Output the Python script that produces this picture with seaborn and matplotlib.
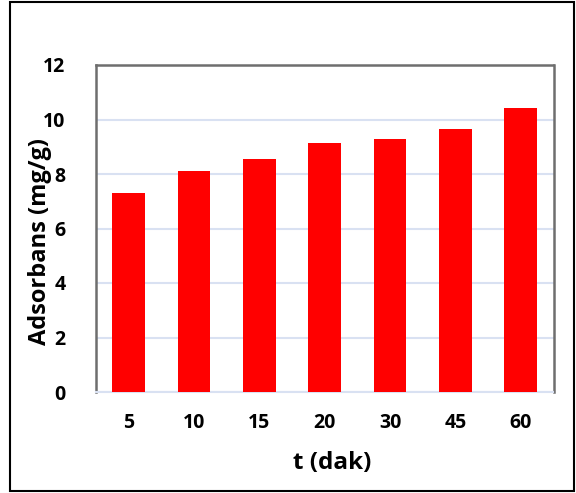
import matplotlib
matplotlib.use("Agg")
import matplotlib.pyplot as plt
import seaborn as sns
import pandas as pd
from matplotlib.patches import Rectangle

categories = ["5", "10", "15", "20", "30", "45", "60"]
values = [7.30, 8.12, 8.56, 9.14, 9.28, 9.64, 10.42]
yticks = [0, 2, 4, 6, 8, 10, 12]

sns.set_theme(style="white")
plt.rcParams['font.family'] = ['Open Sans', 'DejaVu Sans']
plt.rcParams['text.color'] = 'black'
plt.rcParams['axes.labelcolor'] = 'black'

df = pd.DataFrame({"t": categories, "v": values})

fig = plt.figure(figsize=(5.76, 4.93), dpi=100)
ax = fig.add_axes([96/576, 1 - 392/493, (553.5-96)/576, (392-65)/493])

sns.barplot(data=df, x="t", y="v", order=categories, color="#FF0000",
            saturation=1, width=0.5, ax=ax, zorder=3)
for p in ax.patches:
    p.set_edgecolor("none")

ax.set_xlim(-0.5, 6.5)
ax.set_ylim(0, 12)
ax.set_yticks(yticks)
ax.set_yticklabels([str(t) for t in yticks])
ax.yaxis.grid(True, color="#D9E1F2", linewidth=1.5, zorder=0)
ax.set_axisbelow(True)

for s in ["left", "top", "right"]:
    ax.spines[s].set_color("#6E6E6E")
    ax.spines[s].set_linewidth(1.8)
ax.spines["bottom"].set_color("#D9E1F2")
ax.spines["bottom"].set_linewidth(1.5)

ax.tick_params(axis="both", length=0, labelsize=14, colors="black")
ax.tick_params(axis="y", pad=22)
ax.tick_params(axis="x", pad=15)
for lbl in ax.get_xticklabels() + ax.get_yticklabels():
    lbl.set_fontweight("bold")

ax.set_xlabel("t (dak)", fontsize=17.5, fontweight="bold", color="black")
ax.set_ylabel("Adsorbans (mg/g)", fontsize=17, fontweight="bold", color="black")
ax.xaxis.set_label_coords(0.516, -0.217)
ax.xaxis.label.set_va("center")
ax.yaxis.set_label_coords(-0.122, 0.459)
ax.yaxis.label.set_va("center")

fig.patches.append(Rectangle((10/576, 1 - 491/493), (574-10)/576, (491-2)/493,
                             transform=fig.transFigure, fill=False,
                             edgecolor="black", linewidth=1.5))

fig.savefig("out.png", dpi=100)
